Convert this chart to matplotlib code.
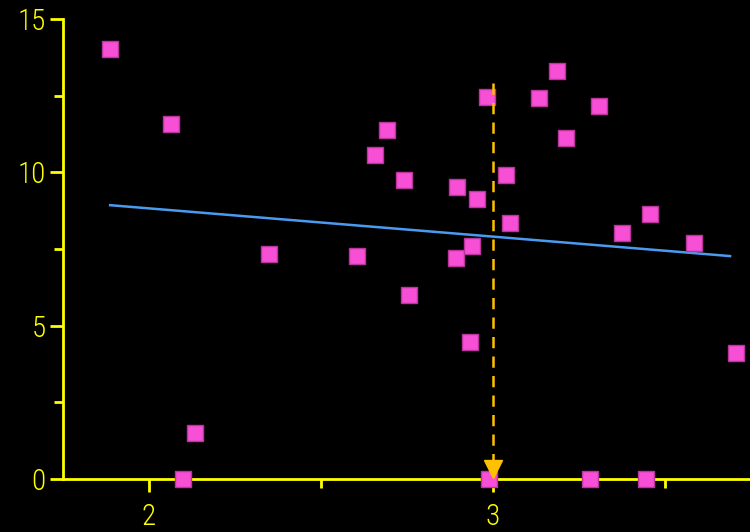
import numpy as np
import matplotlib
matplotlib.use("Agg")
import matplotlib.pyplot as plt
from matplotlib.ticker import MultipleLocator
from matplotlib import font_manager as fm

x_vals = [1.887, 2.064, 2.134, 2.099, 2.349, 2.605, 2.657, 2.692, 2.741, 2.756,
          2.895, 2.892, 2.939, 2.953, 2.933, 2.983, 2.988, 3.038, 3.049, 3.134,
          3.186, 3.212, 3.282, 3.308, 3.375, 3.445, 3.456, 3.584, 3.706]
y_vals = [14.02, 11.57, 1.50, 0.0, 7.34, 7.27, 10.56, 11.38, 9.75, 6.0,
          9.52, 7.2, 7.6, 9.13, 4.47, 12.46, 0.0, 9.91, 8.35, 12.42,
          13.3, 11.12, 0.0, 12.16, 8.02, 0.0, 8.64, 7.69, 4.11]
trend_x = [1.887, 3.689]
trend_y = [8.93, 7.27]
marker_x = 3.0
marker_top = 12.9
y_ticks = [0, 5, 10, 15]
x_ticks = [2, 3]

names = {f.name for f in fm.fontManager.ttflist}
cands = ['Roboto Condensed', 'Liberation Sans Narrow', 'DejaVu Sans Condensed',
         'Open Sans Condensed', 'Noto Sans Display']
fam = [c for c in cands if c in names] + ['DejaVu Sans']
plt.rcParams['font.family'] = fam
stretch = 'condensed'

fig = plt.figure(figsize=(7.5, 5.32), dpi=100, facecolor='black')
ax = fig.add_axes([0.084, 0.0996, 0.916, 0.8646], facecolor='black')

yellow = '#FFFF00'
ax.scatter(x_vals, y_vals, marker='s', s=120, color='#F74FD6', edgecolor='#B8359A',
           linewidth=1, zorder=3, clip_on=False)

ax.plot(trend_x, trend_y, color='#4A9BF0', lw=1.8, zorder=2)

ax.plot([marker_x, marker_x], [marker_top, 0.6], color='#FFC000', lw=1.8,
        linestyle=(0, (4.5, 3.3)), zorder=4)
ax.plot([marker_x], [0.32], marker='v', markersize=13, color='#FFC000', zorder=5,
        clip_on=False)

ax.set_xlim(1.75, 3.747)
ax.set_ylim(0, 15)
ax.set_xticks(x_ticks)
ax.set_yticks(y_ticks)
ax.xaxis.set_minor_locator(MultipleLocator(0.5))
ax.yaxis.set_minor_locator(MultipleLocator(2.5))

for s in ['top', 'right']:
    ax.spines[s].set_visible(False)
for s in ['left', 'bottom']:
    ax.spines[s].set_color(yellow)
    ax.spines[s].set_linewidth(2)

ax.tick_params(axis='both', which='major', colors=yellow, length=9.5, width=2,
               labelsize=21, direction='out')
ax.tick_params(axis='both', which='minor', colors=yellow, length=6.5, width=2,
               direction='out')
ax.tick_params(axis='x', which='major', pad=8)
ax.tick_params(axis='y', which='major', pad=3)
for lab in ax.get_xticklabels() + ax.get_yticklabels():
    lab.set_fontstretch(stretch)
    lab.set_fontweight('light')

fig.savefig('out.png', dpi=100, facecolor='black')
